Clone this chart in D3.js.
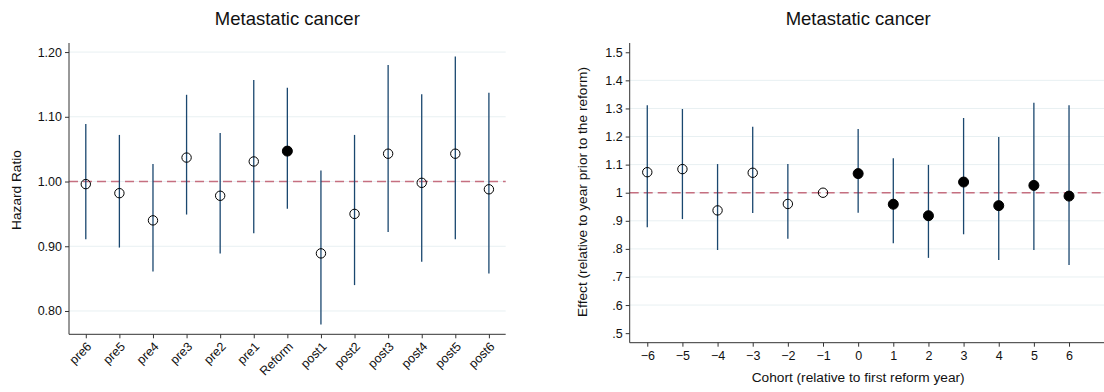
<!DOCTYPE html>
<html>
<head>
<meta charset="utf-8">
<script src="https://cdn.jsdelivr.net/npm/d3@7"></script>
<style>
  body { margin: 0; background: #fff; }
  svg { font-family: "Liberation Sans", Arial, sans-serif; }
</style>
</head>
<body>
<div id="container"></div>
<script>
// left panel: hazard ratios by period
const periods = ['pre6', 'pre5', 'pre4', 'pre3', 'pre2', 'pre1', 'Reform',
    'post1', 'post2', 'post3', 'post4', 'post5', 'post6']
const hrEst = [0.996, 0.982, 0.940, 1.037, 0.978, 1.031, 1.047, 0.889, 0.950, 1.043, 0.998, 1.043, 0.988]
const hrLow = [0.911, 0.898, 0.861, 0.949, 0.889, 0.920, 0.958, 0.779, 0.840, 0.922, 0.876, 0.911, 0.858]
const hrHigh = [1.089, 1.072, 1.027, 1.134, 1.075, 1.157, 1.145, 1.017, 1.072, 1.180, 1.135, 1.193, 1.137]
const hrFilled = [false, false, false, false, false, false, true, false, false, false, false, false, false]
const hrTicks = [0.8, 0.9, 1.0, 1.1, 1.2]

// right panel: cohort effects
const cohorts = [-6, -5, -4, -3, -2, -1, 0, 1, 2, 3, 4, 5, 6]
const effEst = [1.073, 1.084, 0.937, 1.071, 0.960, 1.0, 1.068, 0.959, 0.918, 1.038, 0.954, 1.026, 0.988]
const effLow = [0.877, 0.906, 0.796, 0.928, 0.836, 1.0, 0.929, 0.820, 0.768, 0.852, 0.760, 0.796, 0.743]
const effHigh = [1.311, 1.298, 1.102, 1.235, 1.102, 1.0, 1.227, 1.123, 1.099, 1.266, 1.198, 1.320, 1.311]
const effTicks = [0.5, 0.6, 0.7, 0.8, 0.9, 1.0, 1.1, 1.2, 1.3, 1.4, 1.5]

const ciColor = '#1a476f'
const refColor = '#c56f80'
const gridColor = '#e8f0f2'
const axisColor = '#333'

const svg = d3.select('#container').append('svg')
    .attr('width', 1104)
    .attr('height', 392)

function drawPanel(opts) {
    const g = svg.append('g')
    const x = opts.x
    const y = opts.y
    const [x0, x1s] = x.range()
    const x1 = opts.plotRight || x1s
    const [yb, yt] = y.range()

    // gridlines
    g.selectAll('line.grid')
        .data(opts.gridTicks)
        .join('line')
        .attr('x1', x0).attr('x2', x1)
        .attr('y1', (d) => y(d)).attr('y2', (d) => y(d))
        .attr('stroke', gridColor)
        .attr('stroke-width', 1)

    // reference line at 1
    g.append('line')
        .attr('x1', x0).attr('x2', x1)
        .attr('y1', y(1)).attr('y2', y(1))
        .attr('stroke', refColor)
        .attr('stroke-width', 1.6)
        .attr('stroke-dasharray', '9,5')

    const rows = opts.cats.map((c, i) => ({
        c, est: opts.est[i], lo: opts.lo[i], hi: opts.hi[i], filled: opts.filled[i]
    }))

    g.selectAll('line.ci')
        .data(rows.filter((d) => d.hi > d.lo))
        .join('line')
        .attr('x1', (d) => x(d.c)).attr('x2', (d) => x(d.c))
        .attr('y1', (d) => y(d.lo)).attr('y2', (d) => y(d.hi))
        .attr('stroke', ciColor)
        .attr('stroke-width', 1.3)

    g.selectAll('circle')
        .data(rows)
        .join('circle')
        .attr('cx', (d) => x(d.c))
        .attr('cy', (d) => y(d.est))
        .attr('r', (d) => d.filled ? 5 : 4.7)
        .attr('fill', (d) => d.filled ? '#000' : 'none')
        .attr('stroke', '#000')
        .attr('stroke-width', 1)

    // y axis
    const yAxis = g.append('g')
        .attr('transform', `translate(${x0},0)`)
        .call(d3.axisLeft(y).tickValues(opts.yTicks).tickSize(4).tickPadding(3).tickFormat(opts.yFormat))
    yAxis.select('.domain').attr('stroke', axisColor).attr('d', `M0,${yb}V${yt}`)
    yAxis.selectAll('.tick line').attr('stroke', axisColor)
    yAxis.selectAll('.tick text').attr('font-size', 12.5).attr('fill', '#111')

    // x axis
    const xAxis = g.append('g')
        .attr('transform', `translate(0,${yb})`)
        .call(d3.axisBottom(x).tickSize(4).tickPadding(4).tickFormat(opts.xFormat))
    xAxis.select('.domain').attr('stroke', axisColor).attr('d', `M${x0},0H${x1}`)
    xAxis.selectAll('.tick line').attr('stroke', axisColor)
    xAxis.selectAll('.tick text').attr('font-size', 12.5).attr('fill', '#111')
    if (opts.rotate) {
        xAxis.selectAll('.tick text')
            .attr('text-anchor', 'end')
            .attr('dy', null)
            .attr('y', 0)
            .attr('transform', 'translate(6,13) rotate(-45)')
    }

    // titles
    svg.append('text')
        .attr('x', (x0 + x1s) / 2)
        .attr('y', 25)
        .attr('text-anchor', 'middle')
        .attr('font-size', 18.5)
        .attr('fill', '#111')
        .text('Metastatic cancer')

    svg.append('text')
        .attr('transform', `translate(${opts.yLabelX},${opts.yLabelY}) rotate(-90)`)
        .attr('text-anchor', 'middle')
        .attr('font-size', 13.7)
        .attr('fill', '#111')
        .text(opts.yLabel)

    if (opts.xLabel) {
        svg.append('text')
            .attr('x', (x0 + x1s) / 2)
            .attr('y', 382)
            .attr('text-anchor', 'middle')
            .attr('font-size', 13.7)
            .attr('fill', '#111')
            .text(opts.xLabel)
    }
}

const xLeft = d3.scalePoint().domain(periods).range([69, 505.7]).padding(0.5)
const yLeft = d3.scaleLinear().domain([0.764, 1.214]).range([334.3, 43])

drawPanel({
    x: xLeft, y: yLeft,
    cats: periods, est: hrEst, lo: hrLow, hi: hrHigh, filled: hrFilled,
    yTicks: hrTicks, gridTicks: hrTicks,
    yFormat: d3.format('.2f'), xFormat: (d) => d,
    rotate: true,
    yLabel: 'Hazard Ratio', yLabelX: 21, yLabelY: 190
})

const xRight = d3.scalePoint().domain(cohorts).range([629.7, 1086.6]).padding(0.5)
const yRight = d3.scaleLinear().domain([0.466, 1.533]).range([342.7, 43])

drawPanel({
    x: xRight, y: yRight, plotRight: 1104,
    cats: cohorts, est: effEst, lo: effLow, hi: effHigh,
    filled: cohorts.map((c) => c >= 0),
    yTicks: effTicks, gridTicks: effTicks.filter((t) => t > 0.5 && t < 1.5),
    yFormat: (d) => d3.format('.1f')(d).replace(/^0/, '').replace(/\.0$/, ''),
    xFormat: (d) => d3.format('d')(d).replace('-', '\u2212'),
    rotate: false,
    yLabel: 'Effect (relative to year prior to the reform)', yLabelX: 587, yLabelY: 192,
    xLabel: 'Cohort (relative to first reform year)'
})
</script>
</body>
</html>
